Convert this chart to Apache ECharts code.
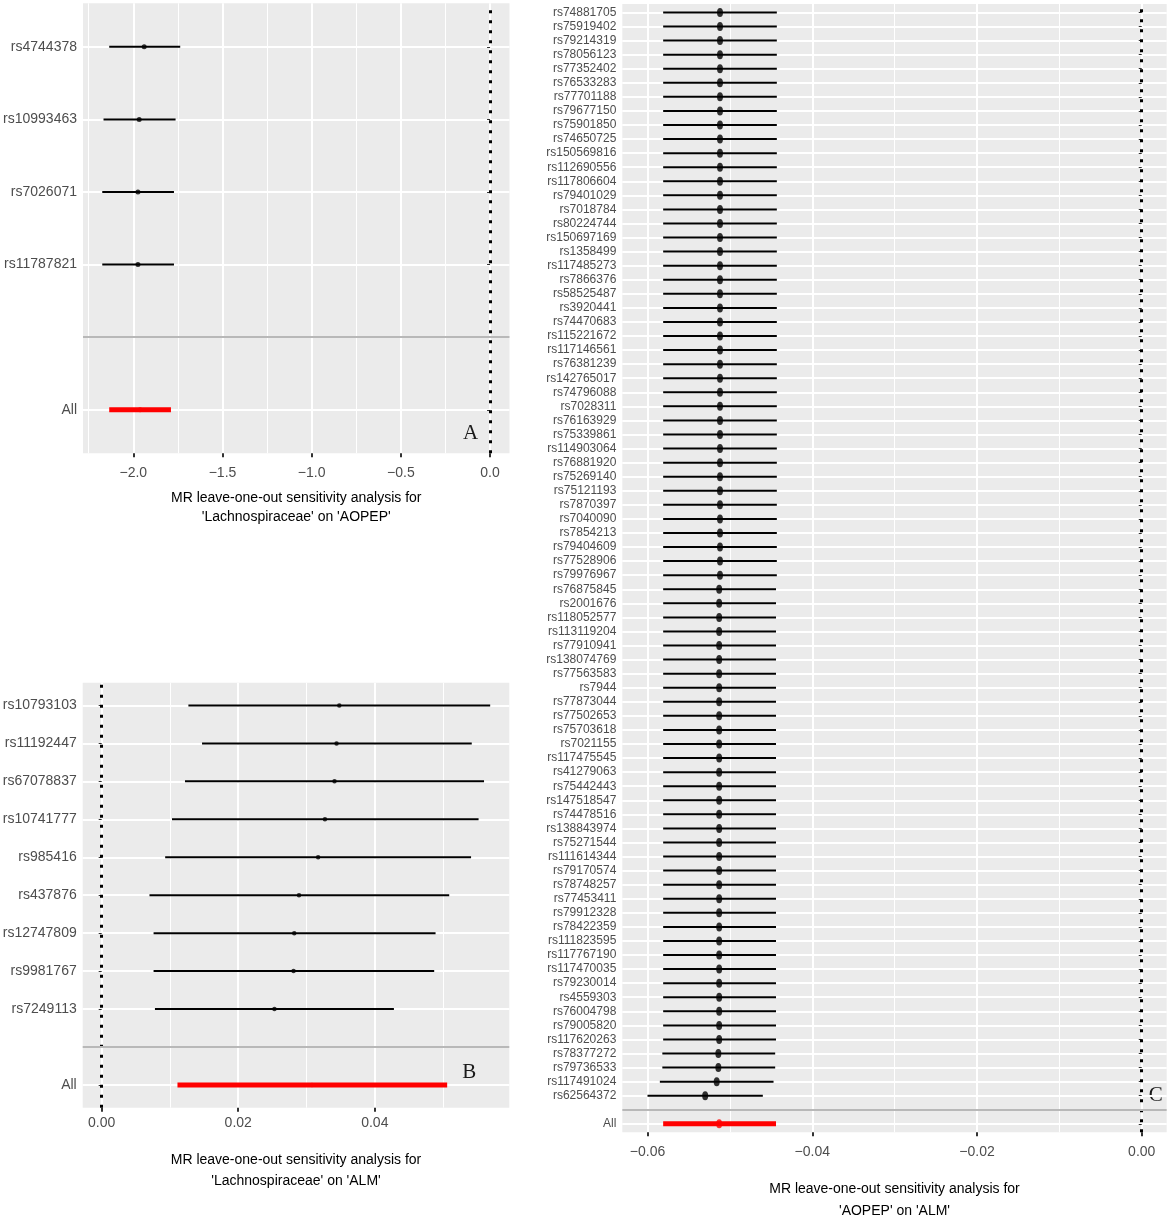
<!DOCTYPE html>
<html>
<head>
<meta charset="utf-8">
<script src="https://cdn.jsdelivr.net/npm/echarts@6/dist/echarts.min.js"></script>
<style>
html, body { margin: 0; padding: 0; background: #fff; }
#main { width: 1170px; height: 1222px; }
</style>
</head>
<body>
<div id="main"></div>
<script>
// A: 'Lachnospiraceae' on 'AOPEP'  (rows top -> bottom, '' = separator row)
var snpA = ['rs4744378', 'rs10993463', 'rs7026071', 'rs11787821', '', 'All'];
var estA = [-1.939, -1.967, -1.974, -1.974, null, -1.962];
var loA  = [-2.135, -2.167, -2.174, -2.174, null, -2.135];
var hiA  = [-1.737, -1.763, -1.772, -1.772, null, -1.789];
var ticksA = [-2.0, -1.5, -1.0, -0.5, 0.0];

// B: 'Lachnospiraceae' on 'ALM'
var snpB = ['rs10793103', 'rs11192447', 'rs67078837', 'rs10741777', 'rs985416', 'rs437876',
            'rs12747809', 'rs9981767', 'rs7249113', '', 'All'];
var estB = [0.0348, 0.0344, 0.0341, 0.0327, 0.0317, 0.0289, 0.0282, 0.0281, 0.0253, null, 0.0308];
var loB  = [0.0127, 0.0147, 0.0122, 0.0103, 0.0093, 0.0070, 0.0076, 0.0076, 0.0078, null, 0.0111];
var hiB  = [0.0569, 0.0542, 0.0560, 0.0552, 0.0541, 0.0509, 0.0489, 0.0487, 0.0428, null, 0.0506];
var ticksB = [0.00, 0.02, 0.04];

// C: 'AOPEP' on 'ALM'
var snpC = ['rs74881705', 'rs75919402', 'rs79214319', 'rs78056123', 'rs77352402', 'rs76533283',
  'rs77701188', 'rs79677150', 'rs75901850', 'rs74650725', 'rs150569816', 'rs112690556',
  'rs117806604', 'rs79401029', 'rs7018784', 'rs80224744', 'rs150697169', 'rs1358499',
  'rs117485273', 'rs7866376', 'rs58525487', 'rs3920441', 'rs74470683', 'rs115221672',
  'rs117146561', 'rs76381239', 'rs142765017', 'rs74796088', 'rs7028311', 'rs76163929',
  'rs75339861', 'rs114903064', 'rs76881920', 'rs75269140', 'rs75121193', 'rs7870397',
  'rs7040090', 'rs7854213', 'rs79404609', 'rs77528906', 'rs79976967', 'rs76875845',
  'rs2001676', 'rs118052577', 'rs113119204', 'rs77910941', 'rs138074769', 'rs77563583',
  'rs7944', 'rs77873044', 'rs77502653', 'rs75703618', 'rs7021155', 'rs117475545',
  'rs41279063', 'rs75442443', 'rs147518547', 'rs74478516', 'rs138843974', 'rs75271544',
  'rs111614344', 'rs79170574', 'rs78748257', 'rs77453411', 'rs79912328', 'rs78422359',
  'rs111823595', 'rs117767190', 'rs117470035', 'rs79230014', 'rs4559303', 'rs76004798',
  'rs79005820', 'rs117620263', 'rs78377272', 'rs79736533', 'rs117491024', 'rs62564372',
  '', 'All'];
var estC = [
  -0.0512, -0.0512, -0.0512, -0.0512, -0.0512, -0.0512, -0.0512, -0.0512, -0.0512, -0.0512,
  -0.0512, -0.0512, -0.0512, -0.0512, -0.0512, -0.0512, -0.0512, -0.0512, -0.0512, -0.0512,
  -0.0512, -0.0512, -0.0512, -0.0512, -0.0512, -0.0512, -0.0512, -0.0512, -0.0512, -0.0512,
  -0.0512, -0.0512, -0.0512, -0.0512, -0.0512, -0.0512, -0.0512, -0.0512, -0.0512, -0.0512,
  -0.0512, -0.0513, -0.0513, -0.0513, -0.0513, -0.0513, -0.0513, -0.0513, -0.0513, -0.0513,
  -0.0513, -0.0513, -0.0513, -0.0513, -0.0513, -0.0513, -0.0513, -0.0513, -0.0513, -0.0513,
  -0.0513, -0.0513, -0.0513, -0.0513, -0.0513, -0.0513, -0.0513, -0.0513, -0.0513, -0.0513,
  -0.0513, -0.0513, -0.0513, -0.0513, -0.0514, -0.0514, -0.0516, -0.0530,
  null, -0.0513];
var loC = [
  -0.0581, -0.0581, -0.0581, -0.0581, -0.0581, -0.0581, -0.0581, -0.0581, -0.0581, -0.0581,
  -0.0581, -0.0581, -0.0581, -0.0581, -0.0581, -0.0581, -0.0581, -0.0581, -0.0581, -0.0581,
  -0.0581, -0.0581, -0.0581, -0.0581, -0.0581, -0.0581, -0.0581, -0.0581, -0.0581, -0.0581,
  -0.0581, -0.0581, -0.0581, -0.0581, -0.0581, -0.0581, -0.0581, -0.0581, -0.0581, -0.0581,
  -0.0581, -0.0581, -0.0581, -0.0581, -0.0581, -0.0581, -0.0581, -0.0581, -0.0581, -0.0581,
  -0.0581, -0.0581, -0.0581, -0.0581, -0.0581, -0.0581, -0.0581, -0.0581, -0.0581, -0.0581,
  -0.0581, -0.0581, -0.0581, -0.0581, -0.0581, -0.0581, -0.0581, -0.0581, -0.0581, -0.0581,
  -0.0581, -0.0581, -0.0581, -0.0581, -0.0582, -0.0582, -0.0585, -0.0600,
  null, -0.0581];
var hiC = [
  -0.0443, -0.0443, -0.0443, -0.0443, -0.0443, -0.0443, -0.0443, -0.0443, -0.0443, -0.0443,
  -0.0443, -0.0443, -0.0443, -0.0443, -0.0443, -0.0443, -0.0443, -0.0443, -0.0443, -0.0443,
  -0.0443, -0.0443, -0.0443, -0.0443, -0.0443, -0.0443, -0.0443, -0.0443, -0.0443, -0.0443,
  -0.0443, -0.0443, -0.0443, -0.0443, -0.0443, -0.0443, -0.0443, -0.0443, -0.0443, -0.0443,
  -0.0443, -0.0444, -0.0444, -0.0444, -0.0444, -0.0444, -0.0444, -0.0444, -0.0444, -0.0444,
  -0.0444, -0.0444, -0.0444, -0.0444, -0.0444, -0.0444, -0.0444, -0.0444, -0.0444, -0.0444,
  -0.0444, -0.0444, -0.0444, -0.0444, -0.0444, -0.0444, -0.0444, -0.0444, -0.0444, -0.0444,
  -0.0444, -0.0444, -0.0444, -0.0444, -0.0445, -0.0445, -0.0447, -0.0460,
  null, -0.0444];
var ticksC = [-0.06, -0.04, -0.02, 0.00];

var titleA = "MR leave-one-out sensitivity analysis for\n'Lachnospiraceae' on 'AOPEP'";
var titleB = "MR leave-one-out sensitivity analysis for\n'Lachnospiraceae' on 'ALM'";
var titleC = "MR leave-one-out sensitivity analysis for\n'AOPEP' on 'ALM'";

var chart = echarts.init(document.getElementById('main'), null, {renderer: 'canvas'});

function fmt(digits) {
    return function (v) {
        var s = Math.abs(v).toFixed(digits);
        return (v < -1e-9 ? '\u2212' : '') + s;
    };
}

// error bar drawn through the axis scales
function barRenderer(color, width) {
    return function (params, api) {
        var y = api.value(2);
        var p1 = api.coord([api.value(0), y]);
        var p2 = api.coord([api.value(1), y]);
        return {
            type: 'line',
            shape: {x1: p1[0], y1: p1[1], x2: p2[0], y2: p2[1]},
            style: {stroke: color, lineWidth: width, lineCap: 'butt'}
        };
    };
}

var grids = [], xAxes = [], yAxes = [], series = [];

function addPanel(p) {
    var idx = grids.length;
    var n = p.names.length;
    var yt = [];
    for (var k = 1; k <= n; k++) yt.push(k);
    var blankPos = n - p.names.indexOf('');

    grids.push({
        left: p.left, top: p.top, width: p.width, height: p.height,
        show: true, backgroundColor: '#ebebeb', borderWidth: 0,
        containLabel: false, outerBoundsMode: 'none'
    });
    xAxes.push({
        gridIndex: idx, type: 'value', min: p.min, max: p.max, splitNumber: p.split,
        axisLine: {show: false},
        axisTick: {show: true, length: 4, customValues: p.ticks, lineStyle: {color: '#333', width: 2}},
        axisLabel: {customValues: p.ticks, margin: p.labelMargin, color: '#4d4d4d', fontSize: 14,
                    fontFamily: 'Liberation Sans', formatter: fmt(p.digits)},
        splitLine: {show: true, lineStyle: {color: '#fff', width: 2}},
        minorTick: {show: false, splitNumber: 2},
        minorSplitLine: {show: true, lineStyle: {color: '#fff', width: 1}},
        name: p.title, nameLocation: 'middle', nameGap: p.nameGap,
        nameTextStyle: {color: '#000', fontSize: 14, fontFamily: 'Liberation Sans', lineHeight: p.lineHeight}
    });
    yAxes.push({
        gridIndex: idx, type: 'value', min: 0.4, max: n + 0.6,
        axisLine: {show: false},
        axisTick: {show: true, length: 3, customValues: yt, lineStyle: {color: '#333', width: 1}},
        axisLabel: {customValues: yt, margin: 6, color: '#4d4d4d', fontSize: p.ySize,
                    fontFamily: 'Liberation Sans',
                    formatter: function (v) { return p.names[n - Math.round(v)]; }},
        splitLine: {show: true, lineStyle: {color: '#fff', width: 2}}
    });

    var bars = [], pts = [], allBar = [], allPt = [];
    p.names.forEach(function (name, i) {
        if (name === '') return;
        var y = n - i;
        if (name === 'All') {
            allBar.push([p.lo[i], p.hi[i], y]);
            allPt.push([p.est[i], y]);
        } else {
            bars.push([p.lo[i], p.hi[i], y]);
            pts.push([p.est[i], y]);
        }
    });

    series.push({
        type: 'custom', xAxisIndex: idx, yAxisIndex: idx, silent: true,
        renderItem: barRenderer('#000', 2), encode: {x: [0, 1], y: 2}, data: bars,
        markLine: {
            silent: true, symbol: 'none', label: {show: false}, z: 1,
            emphasis: {disabled: true},
            data: [
                {xAxis: 0, lineStyle: {color: '#000', width: 3, type: [3, 7], opacity: 1}},
                {yAxis: blankPos, lineStyle: {color: '#b8b8b8', width: 2, type: 'solid', opacity: 1}}
            ]
        }
    });
    series.push({
        type: 'scatter', xAxisIndex: idx, yAxisIndex: idx, silent: true,
        symbol: 'circle', symbolSize: p.dot, itemStyle: {color: '#000'}, data: pts
    });
    series.push({
        type: 'custom', xAxisIndex: idx, yAxisIndex: idx, silent: true,
        renderItem: barRenderer('#ff0000', 5), encode: {x: [0, 1], y: 2}, data: allBar
    });
    series.push({
        type: 'scatter', xAxisIndex: idx, yAxisIndex: idx, silent: true,
        symbol: 'circle', symbolSize: p.dot, itemStyle: {color: '#ff0000'}, data: allPt
    });
}

addPanel({names: snpA, est: estA, lo: loA, hi: hiA, ticks: ticksA, digits: 1,
          left: 83, top: 3.3, width: 426.5, height: 450, min: -2.282, max: 0.109, split: 5,
          labelMargin: 13, nameGap: 35, lineHeight: 19, ySize: 14, dot: 5, title: titleA});
addPanel({names: snpB, est: estB, lo: loB, hi: hiB, ticks: ticksB, digits: 2,
          left: 82.7, top: 682.7, width: 426.6, height: 425, min: -0.00278, max: 0.0597, split: 3,
          labelMargin: 8, nameGap: 42, lineHeight: 21, ySize: 14, dot: 4.5, title: titleB});
addPanel({names: snpC, est: estC, lo: loC, hi: hiC, ticks: ticksC, digits: 2,
          left: 622.3, top: 4, width: 544.4, height: 1128.3, min: -0.06306, max: 0.00303, split: 3,
          labelMargin: 13, nameGap: 46, lineHeight: 22, ySize: 12, dot: [6, 9], title: titleC});

var letterStyle = {fill: '#1a1a1a', fontSize: 21, fontFamily: 'Liberation Serif',
                   align: 'center', verticalAlign: 'middle'};

chart.setOption({
    animation: false,
    backgroundColor: '#fff',
    grid: grids,
    xAxis: xAxes,
    yAxis: yAxes,
    series: series,
    graphic: [
        {type: 'text', x: 470.7, y: 433, style: Object.assign({text: 'A'}, letterStyle)},
        {type: 'text', x: 469.3, y: 1072, style: Object.assign({text: 'B'}, letterStyle)},
        {type: 'text', x: 1155.7, y: 1095, style: Object.assign({text: 'C'}, letterStyle)}
    ]
});
</script>
</body>
</html>
